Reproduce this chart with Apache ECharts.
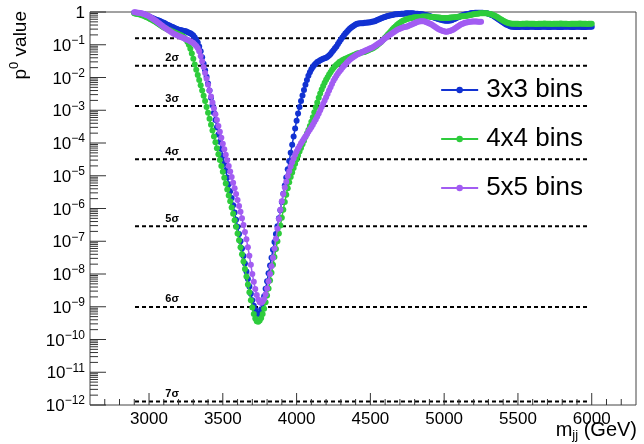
<!DOCTYPE html>
<html>
<head>
<meta charset="utf-8">
<script src="https://cdn.jsdelivr.net/npm/echarts@6/dist/echarts.min.js"></script>
<style>
  html, body { margin: 0; padding: 0; background: #fff; }
  #chart { width: 644px; height: 444px; }
</style>
</head>
<body>
<div id="chart"></div>
<script>
// Dijet mass scan: local p-value vs m_jj, sampled every 10 GeV from 2900 GeV.
const massStart = 2900;
const massStep = 10;

// log10 of the local p-value, one entry per mass point
const log10p3x3 = [
  -0.02,-0.03,-0.03,-0.04,-0.05,-0.06,-0.07,-0.08,-0.10,-0.12,
  -0.14,-0.16,-0.18,-0.20,-0.22,-0.24,-0.25,-0.27,-0.29,-0.31,
  -0.33,-0.35,-0.38,-0.40,-0.42,-0.44,-0.46,-0.48,-0.50,-0.52,
  -0.54,-0.55,-0.56,-0.57,-0.58,-0.59,-0.61,-0.63,-0.65,-0.68,
  -0.72,-0.78,-0.85,-0.93,-1.05,-1.20,-1.38,-1.58,-1.78,-1.98,
  -2.18,-2.40,-2.62,-2.85,-3.08,-3.30,-3.52,-3.74,-3.96,-4.18,
  -4.40,-4.62,-4.84,-5.05,-5.26,-5.47,-5.68,-5.90,-6.12,-6.34,
  -6.56,-6.78,-7.00,-7.22,-7.45,-7.68,-7.92,-8.15,-8.38,-8.60,
  -8.80,-8.97,-9.10,-9.20,-9.24,-9.20,-9.08,-8.90,-8.68,-8.45,
  -8.22,-7.98,-7.74,-7.50,-7.26,-7.02,-6.78,-6.54,-6.30,-6.05,
  -5.80,-5.55,-5.30,-5.05,-4.80,-4.55,-4.30,-4.05,-3.80,-3.56,
  -3.32,-3.10,-2.90,-2.72,-2.55,-2.38,-2.22,-2.08,-1.95,-1.84,
  -1.75,-1.68,-1.62,-1.57,-1.53,-1.50,-1.47,-1.45,-1.43,-1.41,
  -1.40,-1.37,-1.33,-1.28,-1.22,-1.17,-1.11,-1.05,-0.98,-0.91,
  -0.84,-0.78,-0.72,-0.66,-0.61,-0.56,-0.51,-0.47,-0.44,-0.41,
  -0.38,-0.36,-0.35,-0.34,-0.34,-0.34,-0.33,-0.33,-0.32,-0.32,
  -0.31,-0.30,-0.29,-0.28,-0.26,-0.24,-0.22,-0.20,-0.18,-0.16,
  -0.15,-0.13,-0.12,-0.11,-0.10,-0.09,-0.08,-0.07,-0.07,-0.06,
  -0.06,-0.05,-0.05,-0.05,-0.04,-0.04,-0.04,-0.04,-0.04,-0.04,
  -0.05,-0.05,-0.05,-0.06,-0.06,-0.07,-0.08,-0.09,-0.10,-0.11,
  -0.12,-0.14,-0.15,-0.17,-0.18,-0.20,-0.21,-0.23,-0.24,-0.25,
  -0.26,-0.27,-0.27,-0.27,-0.26,-0.25,-0.23,-0.21,-0.19,-0.17,
  -0.15,-0.13,-0.11,-0.09,-0.08,-0.07,-0.06,-0.05,-0.04,-0.03,
  -0.03,-0.02,-0.02,-0.02,-0.02,-0.02,-0.02,-0.03,-0.03,-0.04,
  -0.05,-0.07,-0.09,-0.11,-0.14,-0.17,-0.20,-0.23,-0.26,-0.29,
  -0.32,-0.35,-0.38,-0.40,-0.42,-0.44,-0.45,-0.45,-0.46,-0.46,
  -0.46,-0.46,-0.45,-0.45,-0.45,-0.46,-0.46,-0.46,-0.45,-0.45,
  -0.45,-0.45,-0.46,-0.46,-0.46,-0.46,-0.45,-0.45,-0.45,-0.45,
  -0.46,-0.46,-0.46,-0.45,-0.45,-0.45,-0.45,-0.46,-0.46,-0.46,
  -0.46,-0.45,-0.45,-0.45,-0.45,-0.45,-0.46,-0.46,-0.46,-0.45,
  -0.45,-0.45,-0.45,-0.46,-0.46,-0.46,-0.46,-0.45,-0.45,-0.45,
  -0.45
];

const log10p4x4 = [
  -0.04,-0.05,-0.06,-0.07,-0.08,-0.10,-0.11,-0.13,-0.15,-0.17,
  -0.19,-0.22,-0.24,-0.27,-0.29,-0.32,-0.35,-0.38,-0.41,-0.44,
  -0.47,-0.49,-0.52,-0.54,-0.56,-0.58,-0.60,-0.62,-0.64,-0.66,
  -0.68,-0.70,-0.72,-0.75,-0.79,-0.84,-0.91,-1.00,-1.12,-1.27,
  -1.43,-1.60,-1.76,-1.92,-2.08,-2.24,-2.40,-2.56,-2.72,-2.90,
  -3.08,-3.26,-3.44,-3.62,-3.80,-3.98,-4.16,-4.34,-4.52,-4.70,
  -4.88,-5.06,-5.24,-5.42,-5.60,-5.78,-5.97,-6.16,-6.36,-6.56,
  -6.76,-6.97,-7.18,-7.40,-7.62,-7.85,-8.08,-8.32,-8.56,-8.80,
  -9.02,-9.22,-9.36,-9.44,-9.46,-9.42,-9.34,-9.22,-9.06,-8.86,
  -8.66,-8.44,-8.20,-7.96,-7.72,-7.48,-7.24,-7.00,-6.76,-6.52,
  -6.28,-6.04,-5.80,-5.58,-5.38,-5.20,-5.04,-4.90,-4.76,-4.63,
  -4.50,-4.38,-4.26,-4.15,-4.04,-3.93,-3.82,-3.71,-3.60,-3.48,
  -3.35,-3.21,-3.06,-2.91,-2.76,-2.62,-2.49,-2.37,-2.26,-2.16,
  -2.07,-1.99,-1.91,-1.84,-1.77,-1.71,-1.66,-1.61,-1.57,-1.53,
  -1.50,-1.47,-1.45,-1.43,-1.41,-1.39,-1.37,-1.35,-1.33,-1.31,
  -1.29,-1.27,-1.26,-1.25,-1.24,-1.23,-1.22,-1.20,-1.18,-1.16,
  -1.14,-1.12,-1.10,-1.07,-1.04,-1.00,-0.96,-0.92,-0.88,-0.83,
  -0.78,-0.73,-0.68,-0.63,-0.58,-0.53,-0.48,-0.44,-0.40,-0.36,
  -0.33,-0.30,-0.27,-0.25,-0.23,-0.21,-0.20,-0.19,-0.18,-0.17,
  -0.16,-0.16,-0.15,-0.15,-0.15,-0.14,-0.14,-0.14,-0.14,-0.14,
  -0.14,-0.15,-0.15,-0.15,-0.16,-0.16,-0.17,-0.17,-0.18,-0.18,
  -0.18,-0.18,-0.18,-0.18,-0.17,-0.17,-0.16,-0.16,-0.15,-0.15,
  -0.14,-0.14,-0.13,-0.13,-0.12,-0.12,-0.11,-0.10,-0.09,-0.08,
  -0.07,-0.06,-0.05,-0.05,-0.04,-0.04,-0.04,-0.04,-0.04,-0.04,
  -0.05,-0.06,-0.07,-0.09,-0.11,-0.13,-0.15,-0.18,-0.21,-0.24,
  -0.27,-0.29,-0.31,-0.33,-0.34,-0.35,-0.36,-0.36,-0.36,-0.36,
  -0.36,-0.37,-0.37,-0.36,-0.36,-0.36,-0.35,-0.36,-0.36,-0.36,
  -0.36,-0.36,-0.37,-0.37,-0.36,-0.36,-0.36,-0.36,-0.35,-0.36,
  -0.36,-0.36,-0.36,-0.37,-0.36,-0.36,-0.36,-0.36,-0.36,-0.35,
  -0.36,-0.36,-0.36,-0.36,-0.37,-0.37,-0.36,-0.36,-0.36,-0.36,
  -0.36,-0.36,-0.35,-0.36,-0.36,-0.36,-0.36,-0.37,-0.36,-0.36,
  -0.36
];

const log10p5x5 = [
  -0.01,-0.01,-0.02,-0.02,-0.03,-0.04,-0.05,-0.07,-0.09,-0.11,
  -0.13,-0.16,-0.19,-0.22,-0.25,-0.28,-0.32,-0.35,-0.39,-0.42,
  -0.46,-0.49,-0.52,-0.55,-0.58,-0.61,-0.64,-0.67,-0.69,-0.71,
  -0.73,-0.75,-0.77,-0.79,-0.81,-0.83,-0.85,-0.87,-0.89,-0.92,
  -0.95,-0.99,-1.04,-1.10,-1.20,-1.34,-1.50,-1.68,-1.86,-2.04,
  -2.22,-2.40,-2.58,-2.76,-2.94,-3.12,-3.30,-3.48,-3.66,-3.84,
  -4.02,-4.19,-4.36,-4.53,-4.70,-4.87,-5.04,-5.21,-5.38,-5.56,
  -5.74,-5.92,-6.10,-6.30,-6.50,-6.72,-6.94,-7.18,-7.44,-7.72,
  -8.00,-8.24,-8.46,-8.64,-8.78,-8.86,-8.88,-8.84,-8.76,-8.62,
  -8.44,-8.22,-8.00,-7.76,-7.50,-7.22,-6.92,-6.62,-6.32,-6.04,
  -5.78,-5.56,-5.36,-5.18,-5.01,-4.86,-4.72,-4.59,-4.47,-4.36,
  -4.26,-4.17,-4.09,-4.01,-3.94,-3.87,-3.80,-3.73,-3.66,-3.59,
  -3.52,-3.44,-3.36,-3.28,-3.19,-3.10,-3.00,-2.90,-2.80,-2.70,
  -2.60,-2.50,-2.40,-2.30,-2.20,-2.10,-2.02,-1.95,-1.88,-1.82,
  -1.76,-1.70,-1.65,-1.60,-1.55,-1.50,-1.46,-1.42,-1.39,-1.36,
  -1.33,-1.30,-1.28,-1.25,-1.23,-1.21,-1.19,-1.17,-1.15,-1.13,
  -1.11,-1.09,-1.07,-1.04,-1.01,-0.98,-0.95,-0.92,-0.88,-0.84,
  -0.80,-0.77,-0.73,-0.70,-0.67,-0.64,-0.61,-0.58,-0.55,-0.53,
  -0.51,-0.49,-0.47,-0.46,-0.45,-0.44,-0.42,-0.40,-0.38,-0.36,
  -0.34,-0.32,-0.30,-0.29,-0.28,-0.28,-0.28,-0.29,-0.31,-0.33,
  -0.35,-0.37,-0.40,-0.43,-0.46,-0.49,-0.52,-0.54,-0.56,-0.58,
  -0.59,-0.60,-0.60,-0.59,-0.58,-0.56,-0.54,-0.51,-0.48,-0.45,
  -0.42,-0.39,-0.37,-0.35,-0.33,-0.32,-0.31,-0.30,-0.30,-0.29,
  -0.29,-0.29,-0.29,-0.30,-0.30,-0.30
];

const seriesNames = ['3x3 bins', '4x4 bins', '5x5 bins'];
const seriesColors = ['#1232d2', '#2ecc3c', '#a25cf2'];

// axis range and tick labels
const massRange = [2600, 6300];
const pRange = [1e-12, 1];
const xLabelValues = [3000, 3500, 4000, 4500, 5000, 5500, 6000];
const xMinorTickValues = [2700, 2800, 2900, 3100, 3200, 3300, 3400, 3600, 3700, 3800, 3900,
  4100, 4200, 4300, 4400, 4600, 4700, 4800, 4900, 5100, 5200, 5300, 5400,
  5600, 5700, 5800, 5900, 6100, 6200];
const yLabelExponents = [0, -1, -2, -3, -4, -5, -6, -7, -8, -9, -10, -11, -12];

// one-sided Gaussian significance reference lines
const sigmaLevels = [1, 2, 3, 4, 5, 6, 7];
const sigmaPValues = [1.587e-1, 2.275e-2, 1.350e-3, 3.167e-5, 2.867e-7, 9.866e-10, 1.280e-12];
const sigmaLineMass = [2905, 5985];
const sigmaLabelMass = 3110;

const FONT = '"Liberation Sans", Arial, Helvetica, sans-serif';

function toPoints(logValues) {
  return logValues.map((v, i) => [massStart + i * massStep, Math.pow(10, v)]);
}
const curves = [log10p3x3, log10p4x4, log10p5x5];

// tick marks drawn inward from the frame: [x, y, orientation(0 = x axis, 1 = y axis), length]
const tickData = [];
xLabelValues.forEach(v => tickData.push([v, pRange[0], 0, 12]));
xMinorTickValues.forEach(v => tickData.push([v, pRange[0], 0, 6]));
yLabelExponents.forEach(e => {
  tickData.push([massRange[0], Math.pow(10, e), 1, 16]);
  if (e < 0) {
    for (let k = 2; k <= 9; k++) tickData.push([massRange[0], k * Math.pow(10, e), 1, 8]);
  }
});

const sigmaData = sigmaLevels.map((s, i) => [sigmaLineMass[0], sigmaPValues[i], s]);

const chart = echarts.init(document.getElementById('chart'), null, { renderer: 'canvas' });

const lineSeries = seriesNames.map((name, i) => ({
  type: 'line',
  name: name,
  data: toPoints(curves[i]),
  symbol: 'circle',
  symbolSize: 6,
  showSymbol: true,
  lineStyle: { width: 1.5, color: seriesColors[i] },
  itemStyle: { color: seriesColors[i] },
  emphasis: { disabled: true },
  z: 3 + i
}));

chart.setOption({
  animation: false,
  backgroundColor: '#fff',
  textStyle: { fontFamily: FONT },
  grid: {
    left: 90, right: 8, top: 12, bottom: 39,
    show: true, borderColor: '#444', borderWidth: 1, backgroundColor: 'transparent'
  },
  legend: {
    orient: 'vertical',
    right: 56,
    top: 72,
    itemWidth: 37,
    itemHeight: 8,
    itemGap: 23,
    selectedMode: false,
    data: seriesNames,
    textStyle: { fontSize: 26, color: '#000', fontFamily: FONT, padding: [0, 0, 0, 3] }
  },
  xAxis: {
    type: 'value',
    min: massRange[0],
    max: massRange[1],
    axisLine: { show: false },
    axisTick: { show: false },
    splitLine: { show: false },
    axisLabel: {
      customValues: xLabelValues,
      formatter: v => String(v),
      fontSize: 17,
      color: '#000',
      margin: 6,
      fontFamily: FONT
    }
  },
  yAxis: {
    type: 'log',
    logBase: 10,
    min: pRange[0],
    max: pRange[1],
    axisLine: { show: false },
    axisTick: { show: false },
    splitLine: { show: false },
    axisLabel: {
      customValues: yLabelExponents.map(e => Math.pow(10, e)),
      margin: 5,
      formatter: function (v) {
        const e = Math.round(Math.log10(v));
        return e === 0 ? '{b|1}' : '{b|10}{s|\u2212' + Math.abs(e) + '}';
      },
      rich: {
        b: { fontSize: 17, color: '#000', fontFamily: FONT, lineHeight: 20, verticalAlign: 'bottom' },
        s: { fontSize: 12, color: '#000', fontFamily: FONT, lineHeight: 6, verticalAlign: 'top' }
      }
    }
  },
  graphic: [
    {
      type: 'text',
      x: 19, y: 11,
      rotation: Math.PI / 2,
      style: {
        text: '{p|p}{s|0}{p| value}',
        align: 'right',
        verticalAlign: 'middle',
        rich: {
          p: { fontSize: 19, fontFamily: FONT, fill: '#000', lineHeight: 22, verticalAlign: 'bottom' },
          s: { fontSize: 13, fontFamily: FONT, fill: '#000', lineHeight: 6, verticalAlign: 'top' }
        }
      }
    },
    {
      type: 'text',
      x: 637, y: 431,
      style: {
        text: '{m|m}{j|jj}{m| (GeV)}',
        align: 'right',
        verticalAlign: 'middle',
        rich: {
          m: { fontSize: 20, fontFamily: FONT, fill: '#000', lineHeight: 22, verticalAlign: 'top' },
          j: { fontSize: 13, fontFamily: FONT, fill: '#000', lineHeight: 8, verticalAlign: 'bottom' }
        }
      }
    }
  ],
  series: [
    {
      type: 'custom',
      name: 'sigma',
      silent: true,
      z: 2,
      data: sigmaData,
      renderItem: function (params, api) {
        const p = api.value(1);
        const level = api.value(2);
        const a = api.coord([sigmaLineMass[0], p]);
        const b = api.coord([sigmaLineMass[1], p]);
        const children = [{
          type: 'line',
          shape: { x1: a[0], y1: a[1], x2: b[0], y2: b[1] },
          style: { stroke: '#000', lineWidth: 2, lineDash: [4, 3] }
        }];
        if (level >= 2) {
          const t = api.coord([sigmaLabelMass, p]);
          children.push({
            type: 'text',
            x: t[0], y: t[1] - 2,
            style: {
              text: level + 'σ',
              fontSize: 11,
              fontWeight: 'bold',
              fontFamily: FONT,
              fill: '#000',
              align: 'left',
              verticalAlign: 'bottom'
            }
          });
        }
        return { type: 'group', children: children };
      }
    },
    ...lineSeries,
    {
      type: 'custom',
      name: 'ticks',
      silent: true,
      z: 10,
      data: tickData,
      renderItem: function (params, api) {
        const p = api.coord([api.value(0), api.value(1)]);
        const len = api.value(3);
        const shape = api.value(2) === 0
          ? { x1: p[0], y1: p[1], x2: p[0], y2: p[1] - len }
          : { x1: p[0], y1: p[1], x2: p[0] + len, y2: p[1] };
        return { type: 'line', shape: shape, style: { stroke: '#333', lineWidth: 1 } };
      }
    }
  ]
});
</script>
</body>
</html>
